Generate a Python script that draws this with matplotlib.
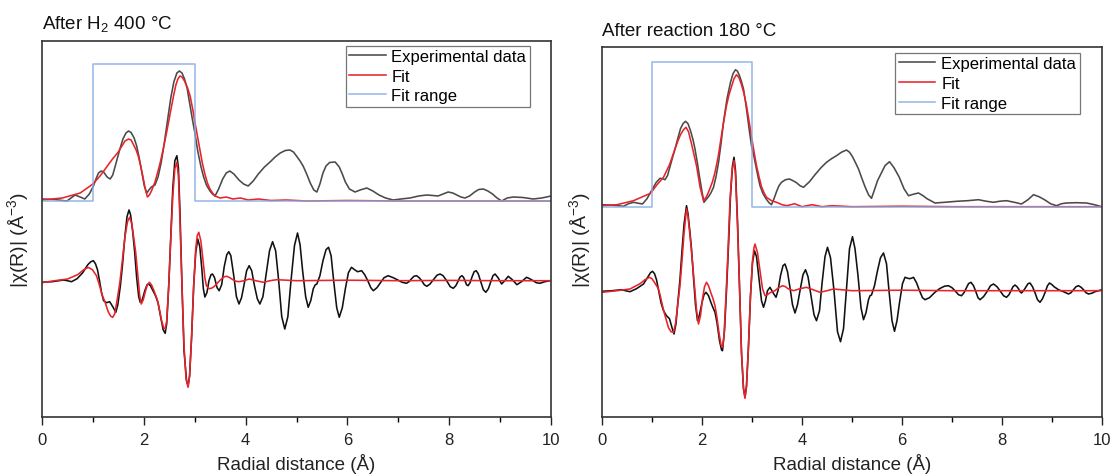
import matplotlib
matplotlib.use("Agg")
import matplotlib.pyplot as plt
import numpy as np

plt.rcParams['font.family'] = ['Liberation Sans', 'DejaVu Sans']
plt.rcParams['mathtext.fontset'] = 'custom'
plt.rcParams['mathtext.rm'] = 'Liberation Sans'
plt.rcParams['mathtext.it'] = 'Liberation Sans:italic'

# ---------------- Panel A: After H2 400 °C ----------------
a_mag_exp_R = [0.00, 0.25, 0.40, 0.49, 0.57, 0.65, 0.75, 0.84, 0.93, 1.01, 1.06, 1.11, 1.16, 1.21, 1.28, 1.34,
               1.39, 1.45, 1.53, 1.59, 1.65, 1.70, 1.75, 1.81, 1.86, 1.91, 1.96, 2.01, 2.06, 2.10, 2.15, 2.22,
               2.28, 2.34, 2.40, 2.47, 2.53, 2.59, 2.65, 2.70, 2.75, 2.80, 2.85, 2.90, 2.95, 3.00, 3.06, 3.12,
               3.17, 3.23, 3.30, 3.35, 3.40, 3.47, 3.55, 3.62, 3.69, 3.77, 3.87, 3.96, 4.05, 4.15, 4.25, 4.37,
               4.48, 4.58, 4.68, 4.78, 4.87, 4.94, 5.00, 5.07, 5.13, 5.20, 5.27, 5.34, 5.40, 5.46, 5.52, 5.58,
               5.65, 5.76, 5.84, 5.90, 5.96, 6.04, 6.15, 6.25, 6.38, 6.50, 6.62, 6.75, 6.90, 7.05, 7.23, 7.40,
               7.56, 7.68, 7.78, 7.88, 7.98, 8.07, 8.15, 8.23, 8.31, 8.40, 8.50, 8.58, 8.67, 8.76, 8.85, 8.94,
               9.03, 9.14, 9.26, 9.45, 9.65, 9.82, 10.0]
a_mag_exp = [0.02, 0.015, 0.005, 0.00, 0.03, 0.06, 0.04, 0.02, 0.07, 0.15, 0.22, 0.28, 0.30, 0.29, 0.24, 0.22,
             0.26, 0.37, 0.52, 0.62, 0.68, 0.70, 0.685, 0.63, 0.55, 0.43, 0.29, 0.15, 0.08, 0.11, 0.14, 0.16,
             0.24, 0.38, 0.57, 0.82, 1.03, 1.19, 1.28, 1.30, 1.28, 1.22, 1.13, 0.98, 0.83, 0.69, 0.50, 0.35,
             0.25, 0.16, 0.10, 0.07, 0.05, 0.12, 0.22, 0.28, 0.30, 0.27, 0.21, 0.17, 0.15, 0.20, 0.27, 0.34,
             0.39, 0.44, 0.48, 0.505, 0.51, 0.49, 0.45, 0.40, 0.35, 0.27, 0.18, 0.11, 0.09, 0.17, 0.28, 0.35,
             0.385, 0.39, 0.34, 0.27, 0.19, 0.12, 0.09, 0.11, 0.13, 0.10, 0.06, 0.03, 0.01, 0.02, 0.03, 0.05,
             0.06, 0.055, 0.05, 0.07, 0.09, 0.08, 0.06, 0.04, 0.03, 0.05, 0.09, 0.115, 0.12, 0.10, 0.07, 0.03,
             0.00, 0.03, 0.04, 0.035, 0.02, 0.03, 0.05]
a_mag_fit_R = [0.00, 0.40, 0.75, 1.00, 1.14, 1.27, 1.40, 1.50, 1.57, 1.63, 1.70, 1.75, 1.80, 1.85, 1.89, 1.94,
               1.98, 2.03, 2.07, 2.11, 2.15, 2.22, 2.28, 2.33, 2.39, 2.45, 2.52, 2.58, 2.63, 2.67, 2.71, 2.75,
               2.80, 2.86, 2.91, 2.96, 3.00, 3.05, 3.10, 3.15, 3.20, 3.25, 3.30, 3.35, 3.40, 3.50, 3.62, 3.75,
               3.90, 4.05, 4.25, 4.50, 4.80, 5.20, 6.0, 7.0, 8.0, 9.0, 10.0]
a_mag_fit = [0.01, 0.03, 0.08, 0.17, 0.25, 0.34, 0.43, 0.49, 0.55, 0.60, 0.62, 0.61, 0.56, 0.51, 0.45, 0.35,
             0.25, 0.12, 0.04, 0.06, 0.10, 0.19, 0.30, 0.40, 0.54, 0.69, 0.88, 1.04, 1.16, 1.22, 1.25, 1.24,
             1.20, 1.13, 1.05, 0.92, 0.80, 0.66, 0.52, 0.38, 0.27, 0.18, 0.12, 0.08, 0.05, 0.03, 0.04, 0.02,
             0.03, 0.01, 0.02, 0.005, 0.01, 0.0, 0.005, 0.0, 0.0, 0.0, 0.0]
a_re_exp_R = [0.00, 0.20, 0.42, 0.50, 0.58, 0.69, 0.80, 0.90, 0.96, 1.01, 1.05, 1.09, 1.13, 1.17, 1.21, 1.27,
              1.33, 1.39, 1.45, 1.49, 1.54, 1.58, 1.63, 1.67, 1.71, 1.74, 1.78, 1.82, 1.86, 1.90, 1.93, 1.97,
              2.02, 2.06, 2.09, 2.13, 2.18, 2.23, 2.28, 2.33, 2.38, 2.42, 2.45, 2.49, 2.53, 2.57, 2.61, 2.65,
              2.68, 2.71, 2.75, 2.79, 2.84, 2.87, 2.90, 2.94, 2.98, 3.02, 3.06, 3.10, 3.14, 3.17, 3.20, 3.24,
              3.28, 3.32, 3.35, 3.39, 3.44, 3.48, 3.53, 3.58, 3.63, 3.67, 3.71, 3.77, 3.82, 3.87, 3.92, 3.97,
              4.02, 4.07, 4.12, 4.17, 4.23, 4.28, 4.34, 4.40, 4.47, 4.53, 4.59, 4.65, 4.71, 4.77, 4.83, 4.89,
              4.96, 5.02, 5.07, 5.12, 5.18, 5.23, 5.28, 5.33, 5.37, 5.40, 5.46, 5.52, 5.58, 5.63, 5.68, 5.73,
              5.79, 5.84, 5.90, 5.96, 6.02, 6.08, 6.14, 6.20, 6.24, 6.28, 6.34, 6.40, 6.46, 6.51, 6.58, 6.65,
              6.72, 6.80, 6.90, 6.98, 7.07, 7.16, 7.21, 7.26, 7.31, 7.36, 7.41, 7.46, 7.51, 7.56, 7.62, 7.69,
              7.76, 7.82, 7.88, 7.95, 8.02, 8.08, 8.13, 8.17, 8.21, 8.25, 8.28, 8.31, 8.34, 8.37, 8.41, 8.45,
              8.49, 8.53, 8.57, 8.62, 8.67, 8.72, 8.77, 8.81, 8.86, 8.90, 8.96, 9.03, 9.09, 9.16, 9.24, 9.33,
              9.42, 9.52, 9.58, 9.65, 9.71, 9.78, 9.88, 9.98]
a_re_exp = [-0.015, -0.01, 0.007, 0.00, -0.01, 0.02, 0.08, 0.16, 0.19, 0.20, 0.17, 0.11, 0.00, -0.12, -0.20, -0.22,
            -0.21, -0.26, -0.316, -0.24, -0.05, 0.15, 0.45, 0.64, 0.707, 0.66, 0.50, 0.29, 0.03, -0.16, -0.216, -0.19,
            -0.10, -0.045, -0.033, -0.05, -0.10, -0.15, -0.22, -0.36, -0.49, -0.526, -0.43, -0.05, 0.45, 0.93, 1.20, 1.25,
            1.13, 0.70, -0.05, -0.70, -1.00, -1.05, -0.95, -0.55, -0.05, 0.28, 0.417, 0.34, 0.12, -0.08, -0.163, -0.12,
            0.00, 0.06, 0.067, 0.03, -0.07, -0.10, -0.04, 0.14, 0.26, 0.29, 0.25, 0.04, -0.16, -0.233, -0.17, -0.04,
            0.10, 0.15, 0.10, -0.04, -0.18, -0.233, -0.16, 0.05, 0.30, 0.39, 0.30, 0.00, -0.36, -0.483, -0.36, -0.01,
            0.35, 0.477, 0.36, 0.10, -0.16, -0.266, -0.20, -0.08, -0.04, -0.033, 0.05, 0.20, 0.31, 0.334, 0.25, 0.00,
            -0.27, -0.366, -0.27, -0.08, 0.08, 0.134, 0.11, 0.09, 0.095, 0.10, 0.06, 0.00, -0.07, -0.10, -0.07, -0.02,
            0.03, 0.05, 0.03, 0.01, -0.015, -0.026, -0.01, 0.02, 0.045, 0.05, 0.03, 0.00, -0.04, -0.056, -0.035, 0.01,
            0.055, 0.067, 0.05, 0.00, -0.06, -0.076, -0.05, -0.01, 0.035, 0.05, 0.035, 0.00, -0.04, -0.05, -0.02, 0.04,
            0.09, 0.10, 0.07, -0.01, -0.09, -0.116, -0.08, -0.02, 0.05, 0.067, 0.03, -0.033, 0.00, 0.044, 0.01, -0.04,
            -0.01, 0.034, 0.02, 0.00, -0.02, -0.026, -0.01, 0.00]
a_re_fit_R = [0.00, 0.25, 0.50, 0.70, 0.82, 0.91, 0.99, 1.07, 1.12, 1.18, 1.24, 1.30, 1.35, 1.39, 1.43, 1.48,
              1.53, 1.58, 1.63, 1.68, 1.72, 1.76, 1.80, 1.84, 1.88, 1.92, 1.95, 1.99, 2.03, 2.07, 2.11, 2.15,
              2.20, 2.26, 2.30, 2.35, 2.39, 2.42, 2.45, 2.49, 2.53, 2.57, 2.61, 2.65, 2.68, 2.71, 2.75, 2.79,
              2.83, 2.87, 2.90, 2.94, 2.98, 3.02, 3.05, 3.08, 3.12, 3.16, 3.20, 3.23, 3.28, 3.33, 3.38, 3.43,
              3.48, 3.53, 3.58, 3.63, 3.69, 3.75, 3.81, 3.87, 3.97, 4.07, 4.20, 4.35, 4.48, 4.61, 5.00, 6.00,
              7.00, 8.00, 9.00, 10.0]
a_re_fit = [-0.02, 0.00, 0.017, 0.06, 0.11, 0.133, 0.11, 0.05, -0.03, -0.14, -0.216, -0.31, -0.355, -0.366, -0.33, -0.18,
            -0.016, 0.21, 0.44, 0.59, 0.634, 0.58, 0.44, 0.287, 0.07, -0.15, -0.233, -0.19, -0.11, -0.04, -0.016, -0.04,
            -0.10, -0.183, -0.27, -0.40, -0.47, -0.483, -0.40, -0.05, 0.42, 0.85, 1.12, 1.184, 1.05, 0.60, -0.05, -0.65,
            -0.98, -1.066, -0.95, -0.55, -0.05, 0.32, 0.45, 0.484, 0.40, 0.22, 0.03, -0.05, -0.08, -0.075, -0.06, -0.033,
            -0.005, 0.02, 0.04, 0.044, 0.03, 0.01, -0.005, -0.01, 0.00, 0.017, 0.00, -0.016, 0.00, 0.01, 0.00, 0.005,
            0.00, 0.003, 0.00, 0.00]
a_range_R = [0.0, 1.0, 1.0, 3.0, 3.0, 10.0]
a_range = [0.0, 0.0, 1.37, 1.37, 0.0, 0.0]

# ---------------- Panel B: After reaction 180 °C ----------------
b_mag_exp_R = [0.00, 0.20, 0.43, 0.53, 0.63, 0.72, 0.81, 0.90, 0.99, 1.08, 1.16, 1.21, 1.26, 1.31, 1.36, 1.41,
               1.46, 1.52, 1.57, 1.62, 1.67, 1.72, 1.77, 1.82, 1.86, 1.91, 1.95, 2.00, 2.04, 2.08, 2.13, 2.18,
               2.23, 2.28, 2.33, 2.38, 2.43, 2.50, 2.57, 2.62, 2.67, 2.71, 2.75, 2.79, 2.83, 2.87, 2.91, 2.95,
               2.99, 3.04, 3.08, 3.12, 3.16, 3.22, 3.28, 3.34, 3.39, 3.44, 3.49, 3.54, 3.59, 3.67, 3.75, 3.82,
               3.89, 3.96, 4.03, 4.15, 4.26, 4.38, 4.49, 4.59, 4.69, 4.79, 4.89, 4.95, 5.01, 5.07, 5.13, 5.20,
               5.26, 5.33, 5.39, 5.45, 5.51, 5.57, 5.66, 5.75, 5.84, 5.94, 6.04, 6.13, 6.23, 6.33, 6.42, 6.50,
               6.66, 6.88, 7.09, 7.31, 7.53, 7.68, 7.83, 7.96, 8.09, 8.24, 8.39, 8.52, 8.63, 8.74, 8.85, 8.97,
               9.09, 9.19, 9.29, 9.49, 9.69, 9.85, 9.99]
b_mag_exp = [0.02, 0.015, 0.004, 0.03, 0.044, 0.035, 0.027, 0.08, 0.16, 0.24, 0.284, 0.28, 0.27, 0.31, 0.40, 0.49,
             0.577, 0.69, 0.78, 0.83, 0.854, 0.83, 0.76, 0.67, 0.577, 0.43, 0.30, 0.15, 0.044, 0.07, 0.10, 0.14,
             0.194, 0.30, 0.44, 0.63, 0.844, 1.08, 1.244, 1.33, 1.37, 1.355, 1.31, 1.25, 1.177, 1.05, 0.90, 0.75,
             0.61, 0.50, 0.40, 0.30, 0.21, 0.13, 0.08, 0.04, 0.02, 0.08, 0.15, 0.21, 0.244, 0.27, 0.277, 0.26,
             0.24, 0.21, 0.194, 0.25, 0.32, 0.39, 0.444, 0.48, 0.51, 0.545, 0.567, 0.545, 0.50, 0.44, 0.377, 0.28,
             0.20, 0.12, 0.084, 0.17, 0.26, 0.32, 0.41, 0.45, 0.39, 0.30, 0.18, 0.11, 0.125, 0.137, 0.11, 0.08,
             0.037, 0.045, 0.054, 0.06, 0.07, 0.055, 0.044, 0.055, 0.06, 0.045, 0.027, 0.07, 0.12, 0.10, 0.07, 0.03,
             0.01, 0.03, 0.037, 0.04, 0.037, 0.02, 0.00]
b_mag_fit_R = [0.00, 0.30, 0.63, 0.97, 1.10, 1.23, 1.35, 1.46, 1.52, 1.57, 1.63, 1.68, 1.73, 1.78, 1.84, 1.89,
               1.96, 2.03, 2.09, 2.15, 2.21, 2.26, 2.32, 2.37, 2.43, 2.49, 2.54, 2.59, 2.64, 2.69, 2.74, 2.79,
               2.84, 2.89, 2.94, 2.99, 3.04, 3.09, 3.14, 3.19, 3.24, 3.29, 3.39, 3.49, 3.60, 3.70, 3.85, 4.00,
               4.20, 4.40, 4.60, 5.0, 6.0, 7.0, 8.0, 9.0, 10.0]
b_mag_fit = [0.01, 0.02, 0.06, 0.134, 0.22, 0.294, 0.42, 0.577, 0.66, 0.72, 0.77, 0.794, 0.75, 0.65, 0.52, 0.41,
             0.20, 0.06, 0.10, 0.17, 0.25, 0.344, 0.49, 0.65, 0.84, 1.01, 1.12, 1.20, 1.28, 1.32, 1.29, 1.22,
             1.13, 1.01, 0.86, 0.70, 0.55, 0.41, 0.30, 0.20, 0.14, 0.094, 0.06, 0.044, 0.02, 0.01, 0.03, 0.00,
             0.02, 0.00, 0.01, 0.00, 0.005, 0.0, 0.0, 0.0, 0.0]
b_re_exp_R = [0.00, 0.20, 0.39, 0.47, 0.56, 0.69, 0.83, 0.92, 0.97, 1.01, 1.05, 1.09, 1.13, 1.18, 1.23, 1.29,
              1.35, 1.40, 1.44, 1.48, 1.52, 1.56, 1.60, 1.64, 1.69, 1.72, 1.76, 1.79, 1.83, 1.87, 1.91, 1.95,
              2.00, 2.04, 2.08, 2.13, 2.18, 2.22, 2.26, 2.30, 2.35, 2.39, 2.41, 2.45, 2.49, 2.53, 2.57, 2.61,
              2.64, 2.67, 2.71, 2.75, 2.79, 2.83, 2.86, 2.89, 2.93, 2.97, 3.01, 3.05, 3.09, 3.14, 3.19, 3.23,
              3.27, 3.31, 3.36, 3.42, 3.48, 3.52, 3.57, 3.62, 3.66, 3.71, 3.76, 3.81, 3.86, 3.91, 3.96, 4.02,
              4.07, 4.12, 4.18, 4.24, 4.29, 4.35, 4.40, 4.46, 4.51, 4.57, 4.64, 4.71, 4.77, 4.83, 4.89, 4.95,
              5.01, 5.06, 5.12, 5.18, 5.23, 5.28, 5.33, 5.36, 5.39, 5.45, 5.51, 5.57, 5.63, 5.69, 5.74, 5.80,
              5.85, 5.90, 5.95, 6.01, 6.06, 6.11, 6.15, 6.19, 6.23, 6.29, 6.35, 6.41, 6.46, 6.55, 6.65, 6.75,
              6.85, 6.93, 7.00, 7.06, 7.13, 7.19, 7.24, 7.28, 7.33, 7.38, 7.43, 7.47, 7.52, 7.56, 7.63, 7.70,
              7.77, 7.83, 7.90, 7.96, 8.03, 8.09, 8.14, 8.18, 8.22, 8.26, 8.30, 8.33, 8.36, 8.39, 8.43, 8.47,
              8.52, 8.56, 8.61, 8.66, 8.71, 8.76, 8.81, 8.86, 8.91, 8.95, 9.00, 9.04, 9.13, 9.23, 9.33, 9.38,
              9.43, 9.48, 9.53, 9.58, 9.63, 9.68, 9.73, 9.80, 9.86, 10.0]
b_re_exp = [-0.006, 0.00, 0.01, 0.00, -0.01, 0.02, 0.067, 0.14, 0.18, 0.194, 0.17, 0.11, 0.01, -0.12, -0.20, -0.25,
            -0.28, -0.37, -0.433, -0.33, -0.10, 0.117, 0.40, 0.66, 0.85, 0.77, 0.58, 0.417, 0.13, -0.14, -0.30, -0.24,
            -0.12, -0.04, -0.016, -0.05, -0.12, -0.17, -0.216, -0.32, -0.50, -0.59, -0.60, -0.40, 0.00, 0.45, 0.95, 1.25,
            1.334, 1.20, 0.70, 0.05, -0.62, -0.98, -1.066, -0.95, -0.55, -0.05, 0.28, 0.40, 0.34, 0.12, -0.10, -0.166,
            -0.10, 0.00, 0.034, -0.02, -0.066, 0.00, 0.15, 0.25, 0.267, 0.19, 0.03, -0.14, -0.223, -0.14, 0.00, 0.16,
            0.21, 0.14, -0.05, -0.24, -0.30, -0.20, 0.07, 0.34, 0.434, 0.33, 0.00, -0.41, -0.51, -0.38, 0.02, 0.42,
            0.54, 0.42, 0.15, -0.17, -0.29, -0.22, -0.09, -0.05, -0.043, 0.05, 0.20, 0.33, 0.377, 0.27, 0.00, -0.30,
            -0.406, -0.30, -0.12, 0.07, 0.134, 0.125, 0.12, 0.125, 0.134, 0.08, 0.00, -0.07, -0.09, -0.07, -0.02, 0.02,
            0.045, 0.05, 0.03, 0.00, -0.04, -0.05, -0.02, 0.02, 0.07, 0.084, 0.05, 0.00, -0.07, -0.09, -0.06, -0.01,
            0.05, 0.067, 0.04, 0.00, -0.05, -0.066, -0.04, 0.00, 0.04, 0.057, 0.04, 0.02, -0.01, -0.023, 0.00, 0.03,
            0.07, 0.077, 0.04, -0.02, -0.09, -0.116, -0.08, -0.02, 0.05, 0.077, 0.06, 0.04, 0.01, -0.01, -0.033, -0.02,
            0.01, 0.04, 0.05, 0.035, 0.01, -0.02, -0.033, -0.025, -0.01, 0.01]
b_re_fit_R = [0.00, 0.30, 0.56, 0.76, 0.86, 0.95, 1.00, 1.04, 1.09, 1.13, 1.17, 1.21, 1.25, 1.29, 1.33, 1.38,
              1.43, 1.47, 1.51, 1.56, 1.60, 1.64, 1.69, 1.72, 1.76, 1.81, 1.85, 1.89, 1.93, 1.97, 2.01, 2.05,
              2.09, 2.13, 2.17, 2.22, 2.26, 2.30, 2.34, 2.38, 2.41, 2.44, 2.48, 2.52, 2.56, 2.60, 2.64, 2.67,
              2.71, 2.75, 2.79, 2.83, 2.86, 2.89, 2.93, 2.97, 3.01, 3.04, 3.06, 3.11, 3.16, 3.21, 3.26, 3.31,
              3.36, 3.41, 3.46, 3.53, 3.61, 3.67, 3.72, 3.83, 3.96, 4.09, 4.22, 4.36, 4.50, 4.63, 5.0, 6.0,
              7.0, 8.0, 9.0, 10.0]
b_re_fit = [-0.016, 0.00, 0.017, 0.07, 0.11, 0.134, 0.12, 0.09, 0.05, 0.017, -0.06, -0.15, -0.23, -0.30, -0.37, -0.41,
            -0.416, -0.33, -0.16, 0.05, 0.30, 0.57, 0.817, 0.74, 0.55, 0.284, 0.05, -0.19, -0.333, -0.25, -0.08, 0.04,
            0.084, 0.05, -0.01, -0.08, -0.15, -0.27, -0.42, -0.54, -0.566, -0.45, -0.05, 0.40, 0.90, 1.20, 1.30, 1.16,
            0.65, 0.05, -0.62, -0.98, -1.076, -0.96, -0.55, -0.05, 0.30, 0.43, 0.467, 0.38, 0.20, 0.02, -0.05, -0.04,
            -0.02, -0.01, 0.00, 0.03, 0.05, 0.04, 0.02, 0.00, 0.02, 0.034, 0.01, -0.016, 0.00, 0.017, 0.00, 0.005,
            0.0, 0.0, 0.0, 0.0]
b_range_R = [0.0, 1.0, 1.0, 3.0, 3.0, 10.0]
b_range = [0.0, 0.0, 1.444, 1.444, 0.0, 0.0]

titles = ["After H$_\\mathregular{2}$ 400 °C", "After reaction 180 °C"]
legend_labels = ["Experimental data", "Fit", "Fit range"]
x_ticks = [0, 2, 4, 6, 8, 10]

C_EXP_MAG = '#4a4a4a'
C_EXP_RE = '#111111'
C_FIT = '#e8232a'
C_RANGE = '#86aee3'

W, H = 1111, 477
fig = plt.figure(figsize=(W / 100, H / 100), dpi=100)

panels = [
    dict(rect=[42 / W, 1 - 418 / H, 509 / W, 376 / H], ylim=(0, 3.76), mag_off=2.16, re_off=1.363,
         mag_exp=(a_mag_exp_R, a_mag_exp), mag_fit=(a_mag_fit_R, a_mag_fit),
         re_exp=(a_re_exp_R, a_re_exp), re_fit=(a_re_fit_R, a_re_fit), rng=(a_range_R, a_range),
         title=titles[0], ylab_x=18 / W, leg_anchor=(0.958, 0.988)),
    dict(rect=[602 / W, 1 - 418 / H, 500 / W, 370 / H], ylim=(0, 3.70), mag_off=2.103, re_off=1.263,
         mag_exp=(b_mag_exp_R, b_mag_exp), mag_fit=(b_mag_fit_R, b_mag_fit),
         re_exp=(b_re_exp_R, b_re_exp), re_fit=(b_re_fit_R, b_re_fit), rng=(b_range_R, b_range),
         title=titles[1], ylab_x=580 / W, leg_anchor=(0.955, 0.984)),
]

for p in panels:
    ax = fig.add_axes(p['rect'])
    mo, ro = p['mag_off'], p['re_off']
    lw = 1.15
    ax.plot(p['re_exp'][0], np.array(p['re_exp'][1]) + ro, color=C_EXP_RE, lw=lw, solid_joinstyle='round')
    ax.plot(p['re_fit'][0], np.array(p['re_fit'][1]) + ro, color=C_FIT, lw=lw, solid_joinstyle='round')
    l1, = ax.plot(p['mag_exp'][0], np.array(p['mag_exp'][1]) + mo, color=C_EXP_MAG, lw=lw, solid_joinstyle='round')
    l2, = ax.plot(p['mag_fit'][0], np.array(p['mag_fit'][1]) + mo, color=C_FIT, lw=lw, solid_joinstyle='round')
    l3, = ax.plot(p['rng'][0], np.array(p['rng'][1]) + mo, color=C_RANGE, lw=lw, alpha=0.85)
    leg = ax.legend([l1, l2, l3], legend_labels, loc='upper right', fontsize=12, frameon=True,
                    fancybox=False, edgecolor='#777777', framealpha=1, borderpad=0.2,
                    handlelength=2.2, handletextpad=0.35, labelspacing=0.28,
                    bbox_to_anchor=p['leg_anchor'], borderaxespad=0.0)
    leg.get_frame().set_linewidth(0.9)
    ax.set_xlim(0, 10)
    ax.set_ylim(*p['ylim'])
    ax.set_xticks(x_ticks)
    ax.set_xticks([1, 3, 5, 7, 9], minor=True)
    ax.set_yticks([])
    ax.tick_params(axis='x', which='major', direction='out', length=6, width=1, labelsize=12,
                   colors='#222222', top=False, pad=5)
    ax.tick_params(axis='x', which='minor', direction='out', length=3.5, width=1, top=False)
    for s in ax.spines.values():
        s.set_linewidth(1.2)
        s.set_color('#333333')
    ax.set_xlabel("Radial distance (Å)", fontsize=13.5, labelpad=4, color='#222222')
    ax.text(0.0, 1.022, p['title'], transform=ax.transAxes, fontsize=13.5, ha='left', va='bottom',
            color='#111111')
    fig.text(p['ylab_x'], 1 - 240 / H, "|χ(R)| (Å$^\\mathregular{-3}$)", rotation=90, fontsize=14,
             ha='center', va='center', color='#222222')

fig.savefig("out.png", dpi=100)
